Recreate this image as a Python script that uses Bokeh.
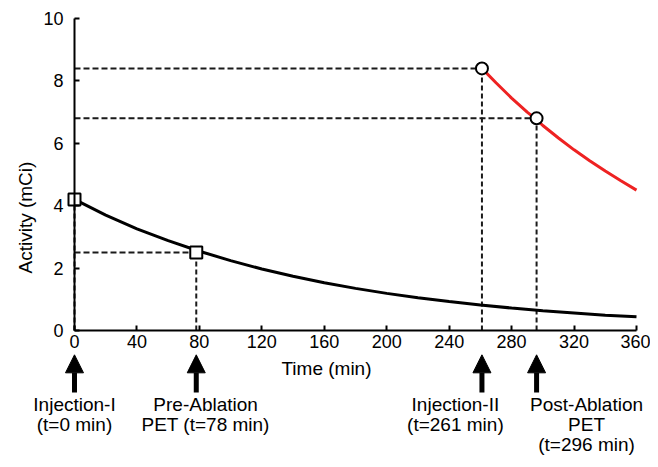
from bokeh.plotting import figure
from bokeh.models import Range1d, FixedTicker, Arrow, NormalHead, ColumnDataSource
from bokeh.core.properties import value
from bokeh.embed import file_html
from bokeh.resources import INLINE

# ---------------- data ----------------
# first injection decay curve (black)
time_first = [0, 20, 40, 60, 80, 100, 120, 140, 160, 180, 200, 220, 240, 260, 280, 300, 320, 340, 360]
act_first = [4.20, 3.70, 3.26, 2.88, 2.54, 2.24, 1.97, 1.74, 1.53, 1.35, 1.19, 1.05, 0.93, 0.82, 0.72, 0.63, 0.56, 0.49, 0.44]

# second injection decay curve (red)
time_second = [261, 270, 280, 290, 296, 300, 310, 320, 330, 340, 350, 360]
act_second = [8.40, 7.94, 7.45, 7.00, 6.76, 6.57, 6.17, 5.79, 5.44, 5.11, 4.80, 4.50]

# events
event_times = [0, 78, 261, 296]
event_activity = [4.2, 2.5, 8.4, 6.8]
event_markers = ["square", "square", "circle", "circle"]
event_labels = ["Injection-I\n(t=0 min)", "Pre-Ablation\nPET (t=78 min)",
                "Injection-II\n(t=261 min)", "Post-Ablation\nPET\n(t=296 min)"]

x_ticks = [0, 40, 80, 120, 160, 200, 240, 280, 320, 360]
y_ticks = [0, 2, 4, 6, 8, 10]
x_title = "Time (min)"
y_title = "Activity (mCi)"

# ---------------- layout ----------------
FONT = "Liberation Sans"
label_dx = [0, 6, -17, 32]          # label centre offsets from event time
arrow_top, arrow_bottom = -0.78, -1.99
label_top = -2.03

p = figure(width=650, height=459, output_backend="svg", toolbar_location=None,
           x_range=Range1d(-47.40, 368.97), y_range=Range1d(-4.135, 10.577),
           min_border=0, outline_line_color=None)
p.grid.visible = False

for ax in (p.xaxis[0], p.yaxis[0]):
    ax.fixed_location = 0
    ax.axis_line_width = 2
    ax.axis_line_color = "black"
    ax.major_tick_line_width = 2
    ax.major_tick_line_color = "black"
    ax.major_tick_in = 5
    ax.major_tick_out = 0
    ax.minor_tick_line_color = None
    ax.major_label_text_font = FONT
    ax.major_label_text_font_size = "18px"
    ax.major_label_text_color = "black"

p.xaxis[0].ticker = FixedTicker(ticks=x_ticks)
p.xaxis[0].bounds = (x_ticks[0], x_ticks[-1])
p.xaxis[0].major_label_standoff = 5
p.yaxis[0].ticker = FixedTicker(ticks=y_ticks)
p.yaxis[0].bounds = (y_ticks[0], y_ticks[-1])
p.yaxis[0].major_label_standoff = 11

# dashed guide lines
n = len(event_times)
p.segment(x0=[0] * n, y0=event_activity, x1=event_times, y1=event_activity,
          line_color="#1a1a1a", line_width=2, line_dash="6 3")
p.segment(x0=event_times, y0=[0] * n, x1=event_times, y1=event_activity,
          line_color="#1a1a1a", line_width=2, line_dash="5 3")

# curves
p.line(time_first, act_first, line_color="black", line_width=3)
p.line(time_second, act_second, line_color="#ee2222", line_width=3)

# markers
src = ColumnDataSource(dict(x=event_times, y=event_activity, m=event_markers))
p.scatter("x", "y", marker="m", source=src, size=12, line_color="black",
          line_width=2, fill_color="white")

# arrows below axis
for t in event_times:
    p.add_layout(Arrow(end=NormalHead(size=18, fill_color="black", line_color="black", line_width=1),
                       x_start=t, y_start=arrow_bottom, x_end=t, y_end=arrow_top,
                       line_width=5, line_color="black"))

# event labels
p.text(x=[t + d for t, d in zip(event_times, label_dx)], y=[label_top] * n, text=event_labels,
       text_align="center", text_baseline="top", text_font=value(FONT),
       text_font_size="19px", text_line_height=0.95, text_color="black")

# axis titles
p.text(x=[161.4], y=[-1.218], text=[x_title], text_align="center", text_baseline="middle",
       text_font=value(FONT), text_font_size="19px", text_color="black")
p.text(x=[-31.4], y=[3.62], text=[y_title], angle=1.5708, text_align="center",
       text_baseline="middle", text_font=value(FONT), text_font_size="19px", text_color="black")

open("out.html", "w").write(file_html(p, INLINE))
